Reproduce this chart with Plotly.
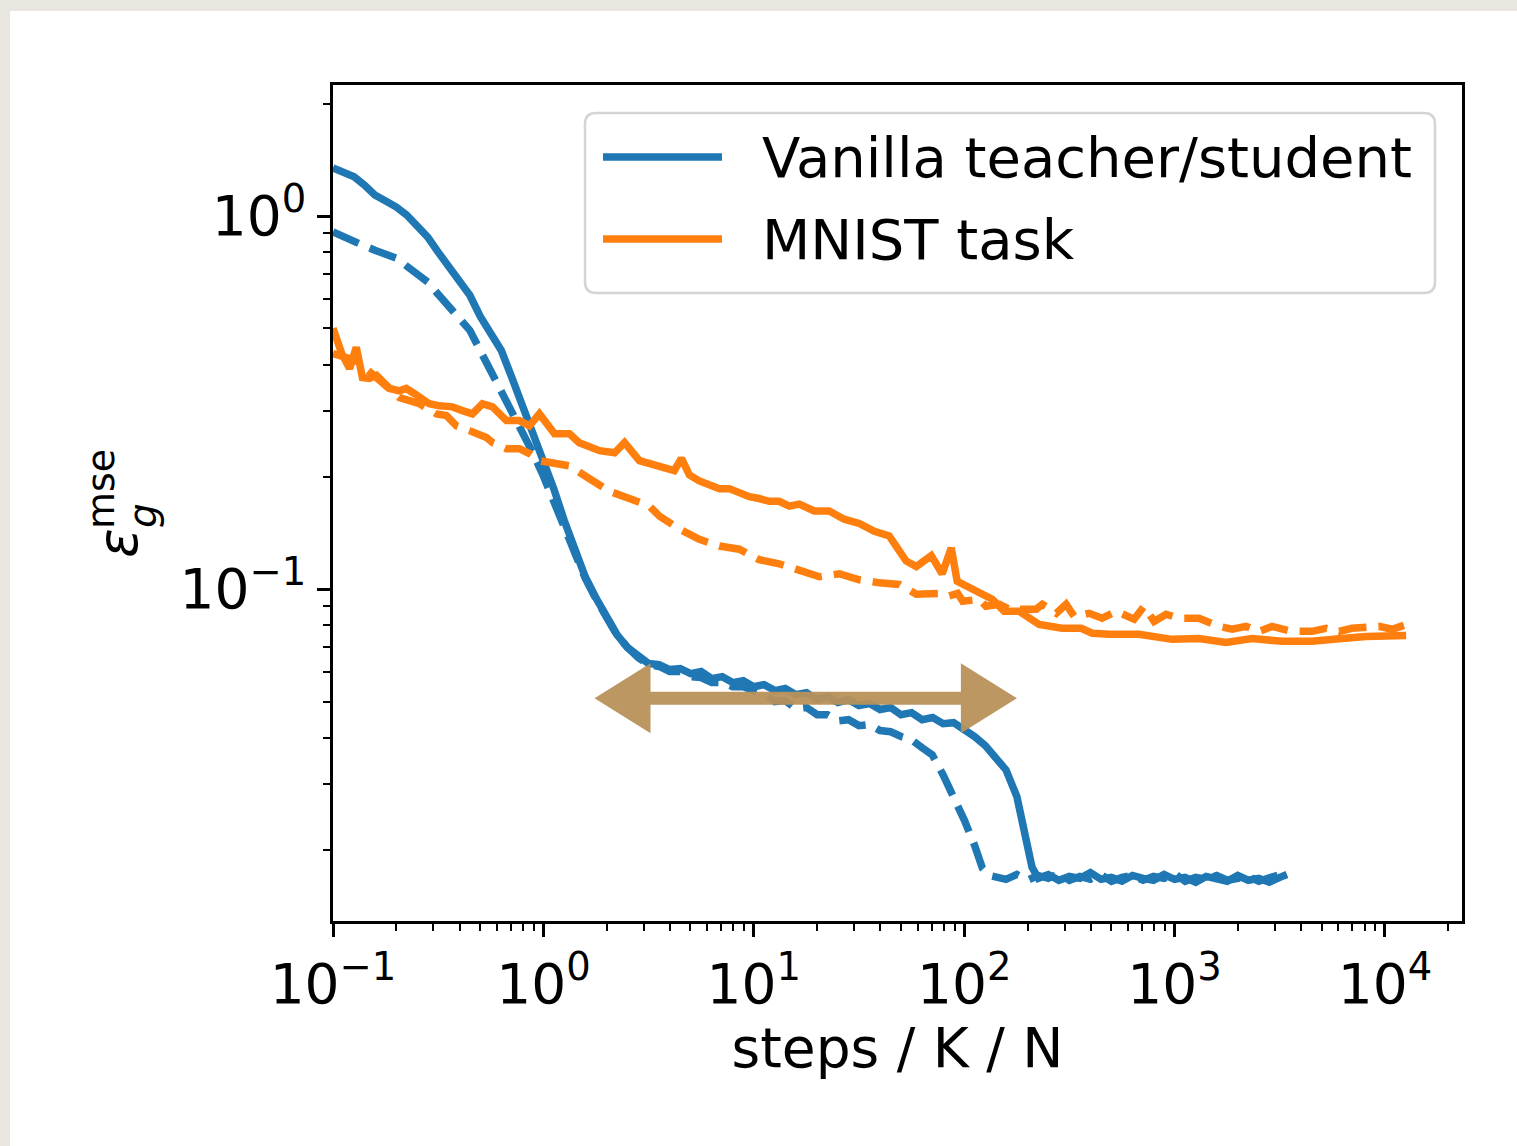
import math
import plotly.graph_objects as go

# ---------------------------------------------------------------- data
# Vanilla teacher/student, solid curve
VAN_SOLID_X = [0.1, 0.112, 0.126, 0.141, 0.158, 0.178, 0.2, 0.224, 0.251, 0.282,
               0.316, 0.355, 0.398, 0.447, 0.501, 0.562, 0.631, 0.708, 0.794, 0.891,
               1.0, 1.12, 1.26, 1.41, 1.58, 1.78, 2.0, 2.24, 2.51, 2.82,
               3.16, 3.55, 3.98, 4.47, 5.01, 5.62, 6.31, 7.08, 7.94, 8.91,
               10, 11.2, 12.6, 14.1, 15.8, 17.8, 20, 22.4, 25.1, 28.2,
               31.6, 35.5, 39.8, 44.7, 50.1, 56.2, 63.1, 70.8, 79.4, 89.1,
               100, 112, 126, 141, 158, 178, 189, 199, 210, 225,
               251, 282, 316, 355, 398, 447, 501, 562, 631, 708, 794, 891, 1000,
               1122, 1259, 1413, 1585, 1778, 1995, 2239, 2512, 2818, 3162, 3420]
VAN_SOLID_Y = [1.346, 1.313, 1.273, 1.211, 1.139, 1.097, 1.057, 1.006, 0.940, 0.878,
               0.800, 0.734, 0.673, 0.613, 0.538, 0.485, 0.436, 0.369, 0.310, 0.266,
               0.224, 0.186, 0.152, 0.128, 0.108, 0.0946, 0.0835, 0.0755, 0.0698, 0.066,
               0.0632, 0.0628, 0.0609, 0.0613, 0.0594, 0.0602, 0.0576, 0.0583, 0.0562, 0.0569,
               0.0548, 0.0555, 0.0535, 0.0542, 0.0522, 0.0528, 0.0506, 0.0516, 0.0497, 0.0506,
               0.0488, 0.0494, 0.0476, 0.0482, 0.0461, 0.0467, 0.0447, 0.0453, 0.0436, 0.0439,
               0.0423, 0.0403, 0.0381, 0.0356, 0.0328, 0.0278, 0.0238, 0.0204, 0.018, 0.0168,
               0.0172, 0.0166, 0.0170, 0.0168, 0.0174, 0.0167, 0.0169, 0.0165, 0.0171, 0.0168,
               0.0166, 0.0172, 0.0167, 0.0169, 0.0164, 0.0170, 0.0167, 0.0165, 0.0171, 0.0166,
               0.0168, 0.0164, 0.0169, 0.0172]

# Vanilla teacher/student, dashed curve
VAN_DASH_X = [0.1, 0.112, 0.126, 0.141, 0.158, 0.178, 0.2, 0.224, 0.251, 0.282,
              0.316, 0.355, 0.398, 0.447, 0.501, 0.562, 0.631, 0.708, 0.794, 0.891,
              1.0, 1.12, 1.26, 1.41, 1.58, 1.78, 2.0, 2.24, 2.51, 2.82,
              3.16, 3.55, 3.98, 4.47, 5.01, 5.62, 6.31, 7.08, 7.94, 8.91,
              10, 11.2, 12.6, 14.1, 15.8, 17.8, 20, 22.4, 25.1, 28.2,
              31.6, 35.5, 39.8, 44.7, 50.1, 56.2, 63.1, 70.5, 79.4, 89.6,
              100, 112, 122, 131.5,
              141, 158, 178, 200, 224, 251, 282, 316, 355, 398, 447, 501, 562, 631,
              708, 794, 891, 1000, 1122, 1259, 1413, 1585, 1778, 1995, 2239, 2512,
              2818, 3162, 3420]
VAN_DASH_Y = [0.906, 0.878, 0.857, 0.831, 0.810, 0.790, 0.771, 0.734, 0.698, 0.665,
              0.617, 0.569, 0.532, 0.494, 0.436, 0.390, 0.340, 0.301, 0.263, 0.232,
              0.201, 0.172, 0.146, 0.125, 0.107, 0.094, 0.0831, 0.0752, 0.0698, 0.0656,
              0.0628, 0.0621, 0.0602, 0.0602, 0.0583, 0.058, 0.0562, 0.0562, 0.0548, 0.0548,
              0.0535, 0.0525, 0.050, 0.0503, 0.0479, 0.0482, 0.0461, 0.0461, 0.0444, 0.0447,
              0.0431, 0.0434, 0.0418, 0.0415, 0.0403, 0.0395, 0.0376, 0.036, 0.0318, 0.0278,
              0.0241, 0.0206, 0.0179, 0.0171,
              0.0170, 0.0167, 0.0172, 0.0166, 0.0171, 0.0168, 0.0173, 0.0166, 0.0170, 0.0167,
              0.0172, 0.0165, 0.0169, 0.0171, 0.0166, 0.0170, 0.0168, 0.0173, 0.0165, 0.0169,
              0.0167, 0.0171, 0.0166, 0.0168, 0.0170, 0.0165, 0.0169, 0.0172, 0.0167]

# MNIST task, solid curve
MNIST_SOLID_X = [0.1, 0.11, 0.12, 0.129, 0.138, 0.149, 0.161, 0.186, 0.207, 0.223,
                 0.244, 0.287, 0.321, 0.37, 0.412, 0.46, 0.513, 0.573, 0.667, 0.769,
                 0.858, 0.957, 1.13, 1.33, 1.48, 1.85, 2.18, 2.43, 2.86, 3.56,
                 4.19, 4.53, 4.94, 5.51, 6.15, 6.86, 7.65, 8.53, 9.52, 10.6,
                 11.85, 13.2, 14.75, 16.45, 19.4, 22.8, 26.9, 31.7, 37.4, 44.0,
                 49.1, 53.0, 59.2, 66.0, 69.7, 78.6, 86.8, 92.6, 102, 118,
                 136, 155, 182, 227, 292, 360, 406, 489, 678, 973,
                 1307, 1756, 2335, 3241, 4500, 6247, 8122, 12600]
MNIST_SOLID_Y = [0.50, 0.428, 0.39, 0.445, 0.369, 0.367, 0.374, 0.345, 0.34, 0.345,
                 0.334, 0.314, 0.31, 0.308, 0.301, 0.295, 0.314, 0.308, 0.283, 0.283,
                 0.274, 0.295, 0.261, 0.261, 0.247, 0.235, 0.232, 0.247, 0.221, 0.213,
                 0.208, 0.224, 0.2025, 0.195, 0.19, 0.186, 0.186, 0.181, 0.177, 0.175,
                 0.172, 0.172, 0.167, 0.169, 0.162, 0.162, 0.154, 0.150, 0.143, 0.139,
                 0.128, 0.119, 0.115, 0.121, 0.123, 0.110, 0.129, 0.105, 0.102, 0.0975,
                 0.094, 0.0873, 0.0873, 0.0805, 0.0786, 0.0786, 0.0762, 0.0757, 0.0757, 0.0734,
                 0.0738, 0.072, 0.0738, 0.0725, 0.0725, 0.0738, 0.0747, 0.0752]

# MNIST task, dashed curve
MNIST_DASH_X = [0.1, 0.129, 0.161, 0.207, 0.258, 0.31, 0.346, 0.386, 0.445, 0.536,
                0.573, 0.667, 0.769, 0.858, 0.957, 1.10, 1.33, 1.65, 2.06, 2.56,
                3.19, 3.56, 4.43, 5.51, 6.86, 8.53, 10.6, 13.2, 16.45, 20.5,
                25.5, 31.7, 39.5, 49.1, 59.2, 66.0, 76.5, 83.5, 93.1, 98.4,
                118, 127, 147, 164, 220, 235, 274, 305, 333, 393,
                452, 528, 642, 716, 799, 911, 1050, 1307, 1627, 1876,
                2186, 2520, 2906, 3615, 4500, 5245, 6046, 6969, 8122, 9366,
                10800, 12300]
MNIST_DASH_Y = [0.428, 0.41, 0.369, 0.326, 0.314, 0.295, 0.292, 0.274, 0.266, 0.255,
                0.247, 0.238, 0.238, 0.231, 0.221, 0.217, 0.214, 0.198, 0.183, 0.175,
                0.167, 0.157, 0.145, 0.136, 0.1305, 0.128, 0.120, 0.117, 0.112, 0.108,
                0.110, 0.106, 0.104, 0.103, 0.097, 0.097, 0.0975, 0.0957, 0.0975, 0.0928,
                0.094, 0.090, 0.0911, 0.0884, 0.0884, 0.0911, 0.0862, 0.0911, 0.0846, 0.0862,
                0.0836, 0.0873, 0.0831, 0.0900, 0.082, 0.0857, 0.0836, 0.0836, 0.0795, 0.0781,
                0.0795, 0.0771, 0.0795, 0.0771, 0.0771, 0.0786, 0.0771, 0.0786, 0.0786, 0.0795,
                0.0781, 0.080]

LEGEND_LABELS = ["Vanilla teacher/student", "MNIST task"]
X_TICKS = [0.1, 1, 10, 100, 1000, 10000]
X_TICK_TEXT = ["10<sup>−1</sup>", "10<sup>0</sup>", "10<sup>1</sup>",
               "10<sup>2</sup>", "10<sup>3</sup>", "10<sup>4</sup>"]
Y_TICKS = [0.1, 1]
Y_TICK_TEXT = ["10<sup>−1</sup>", "10<sup>0</sup>"]
X_TITLE = "steps / K / N"

# double arrow marking the plateau (x from, x to, height)
ARROW_FROM, ARROW_TO, ARROW_AT = 1.75, 178, 0.051

# ---------------------------------------------------------------- style
BLUE = "#1f77b4"
ORANGE = "#ff7f0e"
ARROW_COLOR = "#b8915a"
FONT = "DejaVu Sans"
LW = 7.5
DASH = "28px,12px"

W, H = 1517, 1146
ML, MR, MT, MB = 333, 55, 85, 225
PW, PH = W - ML - MR, H - MT - MB
X_RANGE = [-1.0, 4.366]
Y_RANGE = [-1.889, 0.351]


def fx(p):
    """pixel column -> paper x"""
    return (p - ML) / PW


def fy(p):
    """pixel row -> paper y"""
    return (H - MB - p) / PH


fig = go.Figure()
for xs, ys, col, dash in [
    (VAN_SOLID_X, VAN_SOLID_Y, BLUE, "solid"),
    (VAN_DASH_X, VAN_DASH_Y, BLUE, DASH),
    (MNIST_SOLID_X, MNIST_SOLID_Y, ORANGE, "solid"),
    (MNIST_DASH_X, MNIST_DASH_Y, ORANGE, DASH),
]:
    fig.add_trace(go.Scatter(x=xs, y=ys, mode="lines", showlegend=False,
                             line=dict(color=col, width=LW, dash=dash),
                             hoverinfo="skip"))

x_minor = [k * 10.0 ** d for d in range(-1, 5) for k in range(2, 10)
           if k * 10.0 ** d < 10 ** X_RANGE[1]]
y_minor = [k * 10.0 ** d for d in range(-2, 1) for k in range(2, 10)
           if 10 ** Y_RANGE[0] < k * 10.0 ** d < 10 ** Y_RANGE[1]]

axis_common = dict(showgrid=False, zeroline=False, showline=True, mirror=True,
                   linecolor="black", linewidth=2.5, ticks="outside", ticklen=13,
                   tickwidth=2.5, tickcolor="black",
                   tickfont=dict(family=FONT, size=55, color="black"))

fig.update_xaxes(type="log", range=X_RANGE, tickvals=X_TICKS, ticktext=X_TICK_TEXT,
                 minor=dict(tickvals=x_minor, ticks="outside", ticklen=7, tickwidth=2,
                            tickcolor="black", showgrid=False),
                 title=dict(text=X_TITLE, font=dict(family=FONT, size=55, color="black"),
                            standoff=5),
                 **axis_common)
fig.update_yaxes(type="log", range=Y_RANGE, tickvals=Y_TICKS, ticktext=Y_TICK_TEXT,
                 minor=dict(tickvals=y_minor, ticks="outside", ticklen=7, tickwidth=2,
                            tickcolor="black", showgrid=False),
                 **axis_common)

shapes = []
# white card on the textured backdrop
shapes.append(dict(type="rect", xref="paper", yref="paper", layer="below",
                   x0=fx(10), x1=fx(W + 5), y0=fy(H + 5), y1=fy(11),
                   fillcolor="white", line=dict(width=0)))

# plateau arrow drawn as one outline, anchored at its left tip
ppd = PW / (X_RANGE[1] - X_RANGE[0])
span = ppd * math.log10(ARROW_TO / ARROW_FROM)
hl, hh, sh = 56, 35, 6.5
arrow = (f"M0,0 L{hl},{hh} L{hl},{sh} L{span - hl},{sh} L{span - hl},{hh} L{span},0 "
         f"L{span - hl},{-hh} L{span - hl},{-sh} L{hl},{-sh} L{hl},{-hh} Z")
shapes.append(dict(type="path", xref="x", yref="y", xsizemode="pixel", ysizemode="pixel",
                   xanchor=ARROW_FROM, yanchor=ARROW_AT, path=arrow,
                   fillcolor=ARROW_COLOR, line=dict(width=0), opacity=0.95))

# legend frame with rounded corners
lw_, lh_, r_ = 850, 180, 11
frame = (f"M{r_},0 H{lw_ - r_} Q{lw_},0 {lw_},{-r_} V{-(lh_ - r_)} "
         f"Q{lw_},{-lh_} {lw_ - r_},{-lh_} H{r_} Q0,{-lh_} 0,{-(lh_ - r_)} V{-r_} Q0,0 {r_},0 Z")
shapes.append(dict(type="path", xref="paper", yref="paper", xsizemode="pixel",
                   ysizemode="pixel", xanchor=fx(585), yanchor=fy(113), path=frame,
                   fillcolor="white", line=dict(color="#d4d4d4", width=2.5)))

annotations = []
for row, (label, col) in enumerate(zip(LEGEND_LABELS, [BLUE, ORANGE])):
    yrow = 157 + 82 * row
    shapes.append(dict(type="line", xref="paper", yref="paper",
                       x0=fx(603), x1=fx(722), y0=fy(yrow), y1=fy(yrow),
                       line=dict(color=col, width=LW)))
    annotations.append(dict(text=label, xref="paper", yref="paper", x=fx(760), y=fy(yrow),
                            xanchor="left", yanchor="middle", showarrow=False,
                            font=dict(family=FONT, size=56, color="black")))

# y-axis label: epsilon with stacked sub/superscript
annotations += [
    dict(text="<i>ε</i>", x=fx(118), y=fy(543), textangle=-90,
         font=dict(family=FONT, size=55, color="black")),
    dict(text="<i>g</i>", x=fx(142), y=fy(516), textangle=-90,
         font=dict(family=FONT, size=39, color="black")),
    dict(text="mse", x=fx(101), y=fy(489), textangle=-90,
         font=dict(family=FONT, size=38, color="black")),
]
for a in annotations[-3:]:
    a.update(xref="paper", yref="paper", xanchor="center", yanchor="middle", showarrow=False)

fig.update_layout(width=W, height=H, margin=dict(l=ML, r=MR, t=MT, b=MB, autoexpand=False),
                  paper_bgcolor="#e8e6df", plot_bgcolor="white",
                  shapes=shapes, annotations=annotations,
                  font=dict(family=FONT, color="black"))

fig.write_html("out.html")
